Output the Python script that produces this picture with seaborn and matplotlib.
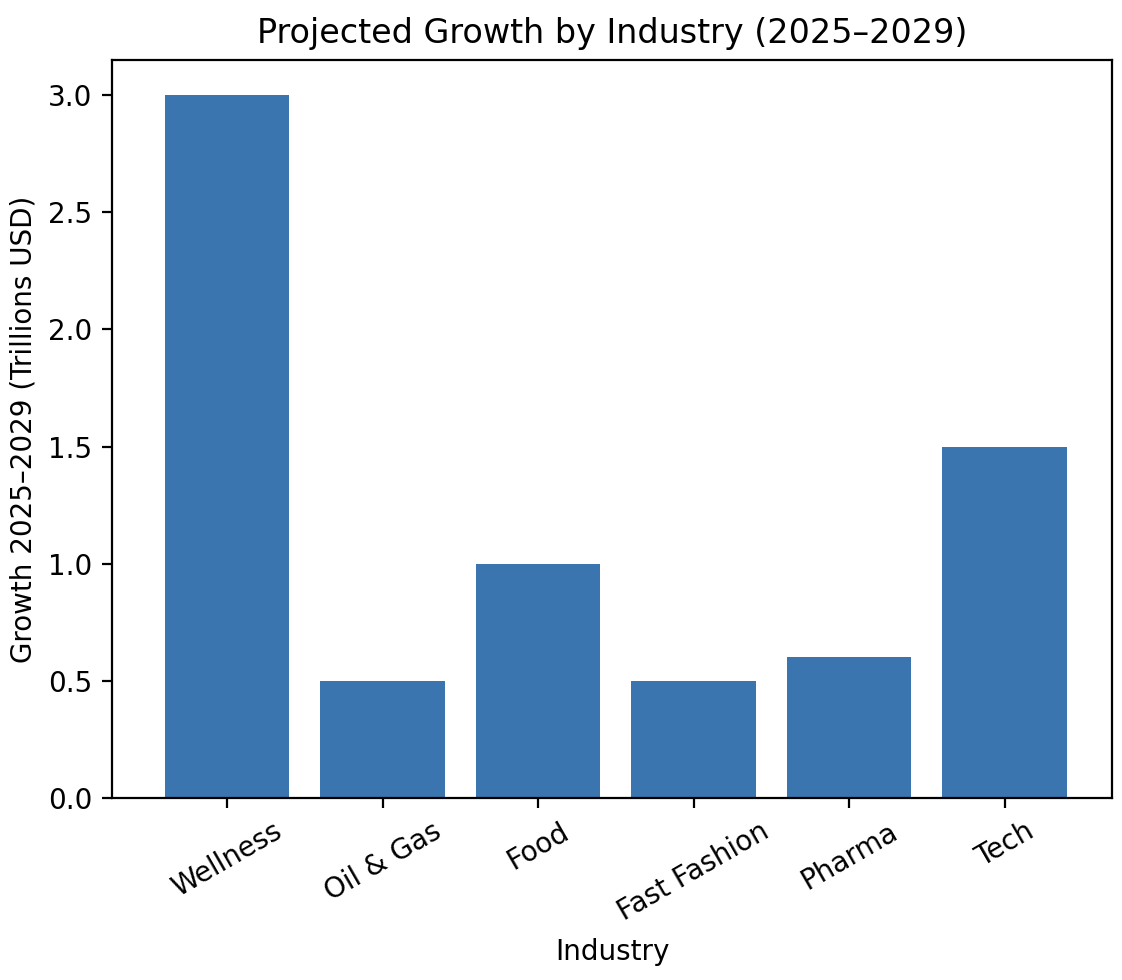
import matplotlib
matplotlib.use("Agg")
import matplotlib.pyplot as plt
import seaborn as sns
import pandas as pd

industries = ["Wellness", "Oil & Gas", "Food", "Fast Fashion", "Pharma", "Tech"]
growth = [3.0, 0.5, 1.0, 0.5, 0.6, 1.5]

plt.rcParams['font.family'] = ['DejaVu Sans']

df = pd.DataFrame({"Industry": industries, "Growth": growth})

DPI = 200
fig = plt.figure(figsize=(1122/DPI, 980/DPI), dpi=DPI)
ax = fig.add_axes([112/1122, 1-798/980, 1000/1122, 738/980])
sns.barplot(data=df, x="Industry", y="Growth", color="#3b75af", saturation=1,
            width=0.8, linewidth=0, ax=ax)
ax.set_xlim(-0.74, 5.69)
ax.set_ylim(0, 3.15)
ax.set_yticks([0.0, 0.5, 1.0, 1.5, 2.0, 2.5, 3.0])
ax.set_yticklabels([f"{v:.1f}" for v in [0.0, 0.5, 1.0, 1.5, 2.0, 2.5, 3.0]])
ax.tick_params(axis="x", rotation=30, labelsize=10)
ax.tick_params(axis="y", labelsize=10)
ax.set_xlabel("Industry", fontsize=10)
ax.set_ylabel("Growth 2025–2029 (Trillions USD)", fontsize=10)
ax.set_title("Projected Growth by Industry (2025–2029)", fontsize=12)
fig.savefig("out.png", dpi=DPI)
